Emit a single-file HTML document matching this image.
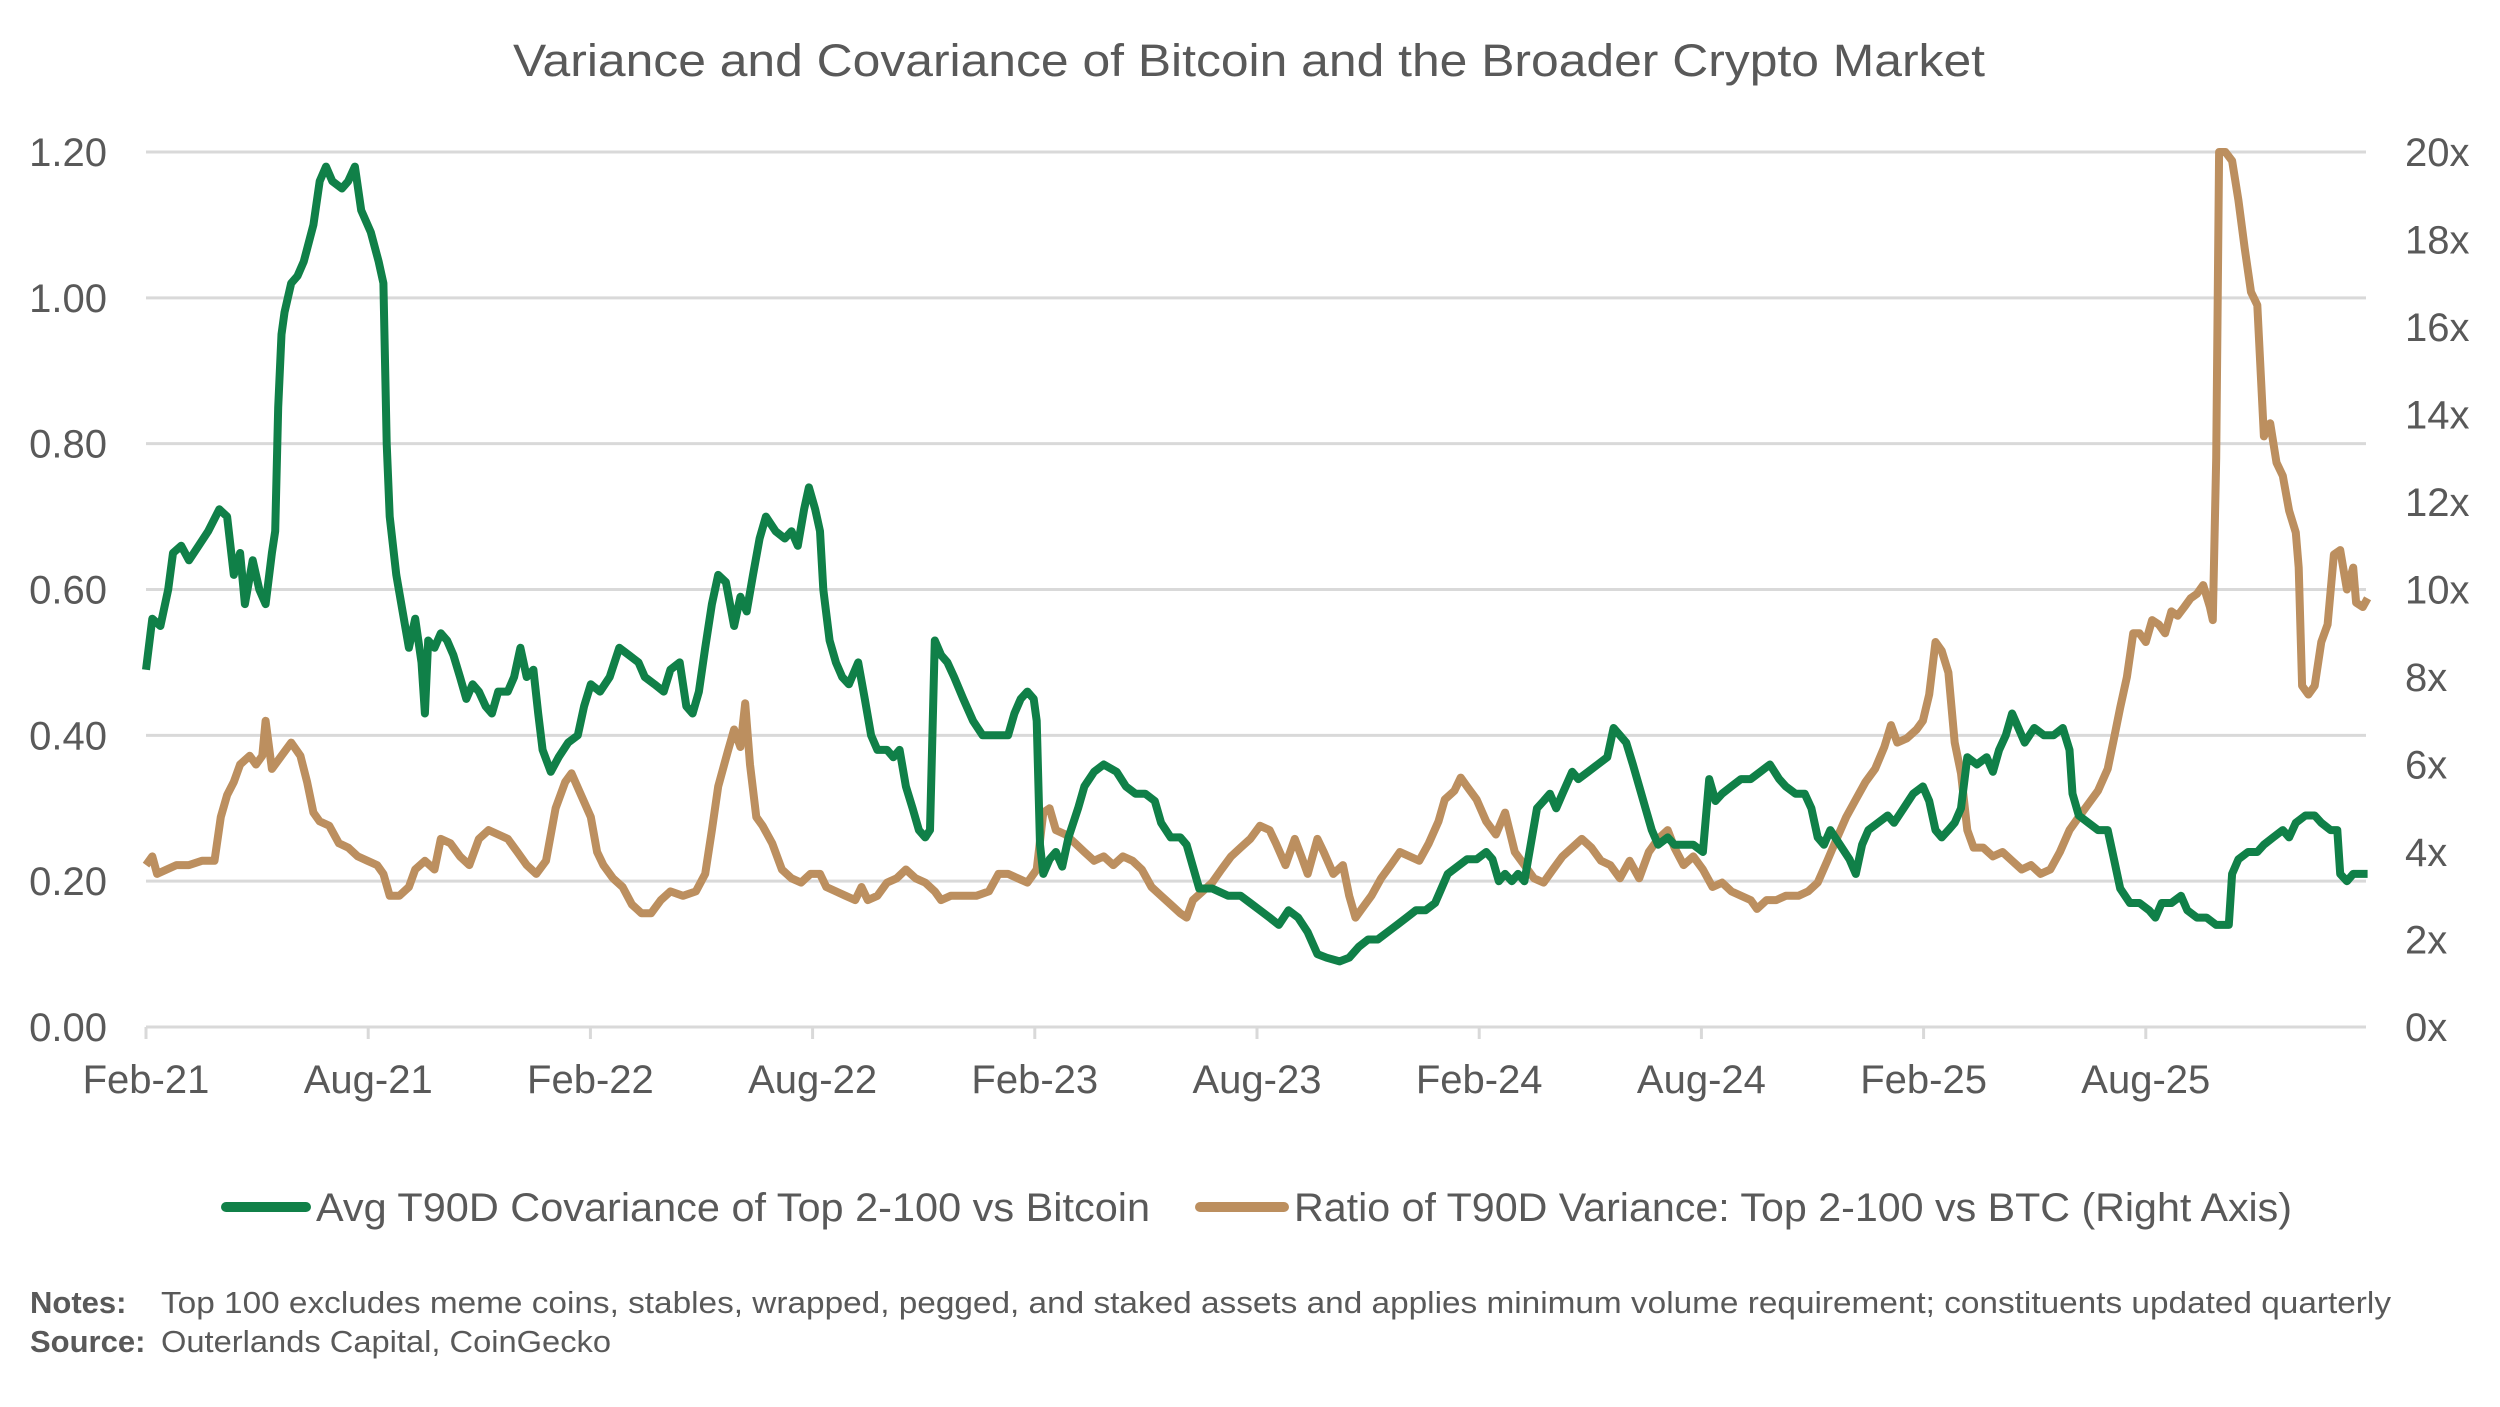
<!DOCTYPE html>
<html><head><meta charset="utf-8"><style>
html,body{margin:0;padding:0;background:#fff;}
svg{display:block;font-family:"Liberation Sans",sans-serif;}
</style></head><body>
<svg id="chart" width="2500" height="1407" viewBox="0 0 2500 1407" xmlns="http://www.w3.org/2000/svg">
<text x="1249" y="76" text-anchor="middle" font-size="45" fill="#595959" textLength="1472" lengthAdjust="spacingAndGlyphs">Variance and Covariance of Bitcoin and the Broader Crypto Market</text>
<g id="grid"></g>
<g id="yl"></g>
<g id="yr"></g>
<g id="xa"></g>
<g id="series"></g>
<g>
<g>
<line x1="226" y1="1207" x2="306" y2="1207" stroke="#108048" stroke-width="10" stroke-linecap="round"/>
<text x="316" y="1221" font-size="40" fill="#595959" textLength="834" lengthAdjust="spacingAndGlyphs">Avg T90D Covariance of Top 2-100 vs Bitcoin</text>
</g>
<g>
<line x1="1200" y1="1207" x2="1284" y2="1207" stroke="#BC8F5F" stroke-width="10" stroke-linecap="round"/>
<text x="1294" y="1221" font-size="40" fill="#595959" textLength="998" lengthAdjust="spacingAndGlyphs">Ratio of T90D Variance: Top 2-100 vs BTC (Right Axis)</text>
</g>
</g>
<g>
<text x="30" y="1313" font-size="31" font-weight="bold" fill="#595959">Notes:</text>
<text x="161" y="1313" font-size="31" fill="#595959" textLength="2230" lengthAdjust="spacingAndGlyphs">Top 100 excludes meme coins, stables, wrapped, pegged, and staked assets and applies minimum volume requirement; constituents updated quarterly</text>
<text x="30" y="1352" font-size="31" font-weight="bold" fill="#595959">Source:</text>
<text x="161" y="1352" font-size="31" fill="#595959" textLength="450" lengthAdjust="spacingAndGlyphs">Outerlands Capital, CoinGecko</text>
</g>
</svg>
<script>
const leftTicks=[0,0.2,0.4,0.6,0.8,1.0,1.2];
const leftTickLabels=["0.00","0.20","0.40","0.60","0.80","1.00","1.20"];
const rightTicks=[0,2,4,6,8,10,12,14,16,18,20];
const rightTickLabels=["0x","2x","4x","6x","8x","10x","12x","14x","16x","18x","20x"];
const xTicks=[0,6,12,18,24,30,36,42,48,54];
const xTickLabels=["Feb-21","Aug-21","Feb-22","Aug-22","Feb-23","Aug-23","Feb-24","Aug-24","Feb-25","Aug-25"];
// months since Feb-21
const covMonths=[0,.17,.39,.60,.73,.95,1.16,1.42,1.68,1.98,2.19,2.37,2.54,2.67,2.88,3.06,3.23,3.40,3.49,3.57,3.66,3.74,3.92,4.09,4.26,4.52,4.69,4.86,5.03,5.29,5.46,5.64,5.81,6.07,6.28,6.41,6.50,6.58,6.76,6.93,7.10,7.27,7.44,7.53,7.62,7.79,7.96,8.13,8.30,8.48,8.65,8.82,8.99,9.17,9.34,9.51,9.77,9.94,10.11,10.28,10.46,10.59,10.71,10.93,11.14,11.40,11.66,11.83,12.01,12.26,12.52,12.78,13.04,13.30,13.47,13.73,13.98,14.16,14.41,14.59,14.76,14.93,15.10,15.28,15.45,15.66,15.88,16.05,16.22,16.39,16.57,16.74,17.00,17.25,17.43,17.60,17.77,17.90,18.07,18.20,18.29,18.46,18.63,18.80,18.98,19.23,19.41,19.58,19.75,20.01,20.18,20.35,20.52,20.70,20.87,21.04,21.17,21.30,21.47,21.64,21.82,22.07,22.33,22.59,22.93,23.28,23.45,23.62,23.80,23.97,24.05,24.14,24.23,24.40,24.57,24.74,24.91,25.17,25.34,25.60,25.86,26.21,26.46,26.72,26.98,27.24,27.41,27.67,27.93,28.10,28.27,28.44,28.79,29.22,29.56,29.82,30.08,30.34,30.59,30.85,31.11,31.37,31.63,31.88,32.23,32.49,32.75,33.00,33.26,33.52,33.78,34.04,34.29,34.55,34.81,34.98,35.15,35.41,35.67,35.93,36.19,36.36,36.53,36.70,36.88,37.05,37.22,37.39,37.56,37.74,37.91,38.08,38.25,38.51,38.68,38.94,39.20,39.46,39.63,39.80,39.97,40.15,40.32,40.49,40.66,40.83,41.09,41.27,41.52,41.78,42.04,42.21,42.38,42.56,42.81,43.07,43.33,43.59,43.85,44.10,44.28,44.54,44.79,44.97,45.14,45.31,45.48,45.74,46.00,46.17,46.34,46.51,46.77,47.03,47.20,47.46,47.72,47.98,48.15,48.32,48.49,48.67,48.84,49.01,49.18,49.44,49.70,49.87,50.04,50.22,50.39,50.56,50.73,50.99,51.25,51.51,51.76,51.94,52.02,52.19,52.45,52.71,52.97,53.14,53.31,53.57,53.83,54.09,54.26,54.43,54.69,54.95,55.12,55.38,55.64,55.90,56.15,56.24,56.33,56.50,56.76,57.01,57.19,57.44,57.70,57.87,58.05,58.31,58.56,58.74,58.99,59.17,59.25,59.43,59.60,59.77,59.99];
const covValues=[.49,.56,.55,.60,.65,.66,.64,.66,.68,.71,.70,.62,.65,.58,.64,.60,.58,.65,.68,.85,.95,.98,1.02,1.03,1.05,1.10,1.16,1.18,1.16,1.15,1.16,1.18,1.12,1.09,1.05,1.02,.80,.70,.62,.57,.52,.56,.50,.43,.53,.52,.54,.53,.51,.48,.45,.47,.46,.44,.43,.46,.46,.48,.52,.48,.49,.43,.38,.35,.37,.39,.40,.44,.47,.46,.48,.52,.51,.50,.48,.47,.46,.49,.50,.44,.43,.46,.52,.58,.62,.61,.55,.59,.57,.62,.67,.70,.68,.67,.68,.66,.71,.74,.71,.68,.60,.53,.50,.48,.47,.50,.45,.40,.38,.38,.37,.38,.33,.30,.27,.26,.27,.53,.51,.50,.48,.45,.42,.40,.40,.40,.43,.45,.46,.45,.42,.25,.21,.23,.24,.22,.26,.30,.33,.35,.36,.35,.33,.32,.32,.31,.28,.26,.26,.25,.22,.19,.19,.18,.18,.17,.16,.15,.14,.16,.15,.13,.10,.095,.09,.095,.11,.12,.12,.13,.14,.15,.16,.16,.17,.19,.21,.22,.23,.23,.24,.23,.20,.21,.20,.21,.20,.25,.30,.31,.32,.30,.32,.35,.34,.35,.36,.37,.41,.40,.39,.36,.33,.30,.27,.25,.26,.25,.25,.25,.24,.34,.31,.32,.33,.34,.34,.35,.36,.34,.33,.32,.32,.30,.26,.25,.27,.25,.23,.21,.25,.27,.28,.29,.28,.30,.32,.33,.31,.27,.26,.27,.28,.30,.37,.36,.37,.35,.38,.40,.43,.41,.39,.41,.40,.40,.41,.38,.32,.29,.28,.27,.27,.23,.19,.17,.17,.16,.15,.17,.17,.18,.16,.15,.15,.14,.14,.14,.21,.23,.24,.24,.25,.26,.27,.26,.28,.29,.29,.28,.27,.27,.21,.20,.21,.21,.21];
const ratioMonths=[0,.17,.30,.56,.82,1.16,1.51,1.85,2.02,2.19,2.37,2.54,2.80,2.97,3.14,3.23,3.40,3.66,3.92,4.17,4.35,4.52,4.69,4.95,5.21,5.46,5.72,5.98,6.24,6.41,6.58,6.84,7.10,7.27,7.53,7.79,7.96,8.22,8.48,8.73,8.99,9.25,9.51,9.77,10.03,10.28,10.54,10.80,11.06,11.32,11.49,11.75,12.01,12.18,12.35,12.61,12.87,13.12,13.38,13.64,13.90,14.16,14.50,14.85,15.10,15.28,15.45,15.71,15.88,16.05,16.18,16.31,16.48,16.65,16.91,17.17,17.43,17.69,17.94,18.20,18.37,18.63,18.89,19.15,19.32,19.49,19.75,20.01,20.27,20.52,20.78,21.04,21.30,21.47,21.73,22.07,22.42,22.76,23.02,23.28,23.54,23.80,24.05,24.23,24.40,24.57,24.83,25.09,25.34,25.60,25.86,26.12,26.38,26.64,26.89,27.15,27.41,27.67,27.93,28.10,28.27,28.53,28.79,29.04,29.30,29.56,29.82,30.08,30.34,30.51,30.77,31.02,31.20,31.37,31.63,31.80,32.06,32.32,32.49,32.66,32.83,33.09,33.35,33.61,33.86,34.12,34.38,34.64,34.90,35.07,35.33,35.50,35.67,35.93,36.19,36.45,36.70,36.96,37.22,37.48,37.74,37.99,38.25,38.51,38.77,39.03,39.29,39.54,39.80,40.06,40.32,40.58,40.83,41.09,41.27,41.52,41.78,42.04,42.30,42.56,42.81,43.07,43.33,43.50,43.76,44.02,44.28,44.62,44.88,45.14,45.40,45.65,45.91,46.17,46.43,46.69,46.94,47.12,47.29,47.55,47.81,47.98,48.15,48.32,48.49,48.67,48.84,49.01,49.18,49.35,49.61,49.87,50.13,50.39,50.65,50.90,51.16,51.42,51.68,51.94,52.19,52.45,52.71,52.97,53.14,53.31,53.49,53.66,53.83,54.00,54.17,54.35,54.52,54.69,54.86,55.04,55.21,55.38,55.55,55.73,55.81,55.90,55.98,56.15,56.33,56.50,56.67,56.84,57.01,57.10,57.19,57.36,57.53,57.70,57.87,58.05,58.13,58.22,58.39,58.56,58.74,58.91,59.08,59.25,59.43,59.60,59.68,59.86,59.99];
const ratioValues=[3.7,3.9,3.5,3.6,3.7,3.7,3.8,3.8,4.8,5.3,5.6,6.0,6.2,6.0,6.2,7.0,5.9,6.2,6.5,6.2,5.6,4.9,4.7,4.6,4.2,4.1,3.9,3.8,3.7,3.5,3.0,3.0,3.2,3.6,3.8,3.6,4.3,4.2,3.9,3.7,4.3,4.5,4.4,4.3,4.0,3.7,3.5,3.8,5.0,5.6,5.8,5.3,4.8,4.0,3.7,3.4,3.2,2.8,2.6,2.6,2.9,3.1,3.0,3.1,3.5,4.5,5.5,6.3,6.8,6.4,7.4,6.0,4.8,4.6,4.2,3.6,3.4,3.3,3.5,3.5,3.2,3.1,3.0,2.9,3.2,2.9,3.0,3.3,3.4,3.6,3.4,3.3,3.1,2.9,3.0,3.0,3.0,3.1,3.5,3.5,3.4,3.3,3.6,4.9,5.0,4.5,4.4,4.2,4.0,3.8,3.9,3.7,3.9,3.8,3.6,3.2,3.0,2.8,2.6,2.5,2.9,3.1,3.3,3.6,3.9,4.1,4.3,4.6,4.5,4.2,3.7,4.3,3.9,3.5,4.3,4.0,3.5,3.7,3.0,2.5,2.7,3.0,3.4,3.7,4.0,3.9,3.8,4.2,4.7,5.2,5.4,5.7,5.5,5.2,4.7,4.4,4.9,4.0,3.7,3.4,3.3,3.6,3.9,4.1,4.3,4.1,3.8,3.7,3.4,3.8,3.4,4.0,4.3,4.5,4.1,3.7,3.9,3.6,3.2,3.3,3.1,3.0,2.9,2.7,2.9,2.9,3.0,3.0,3.1,3.3,3.8,4.3,4.8,5.2,5.6,5.9,6.4,6.9,6.5,6.6,6.8,7.0,7.6,8.8,8.6,8.1,6.5,5.8,4.5,4.1,4.1,3.9,4.0,3.8,3.6,3.7,3.5,3.6,4.0,4.5,4.8,5.1,5.4,5.9,6.6,7.3,8.0,9.0,9.0,8.8,9.3,9.2,9.0,9.5,9.4,9.6,9.8,9.9,10.1,9.6,9.3,13.0,20.0,20.0,19.8,18.9,17.8,16.8,16.5,15.0,13.5,13.8,12.9,12.6,11.8,11.3,10.5,7.8,7.6,7.8,8.8,9.2,10.8,10.9,10.0,10.5,9.7,9.6,9.8];

const NS='http://www.w3.org/2000/svg';
const X0=146,X1=2368,XMAX=60,Y0=1027,YT=152;
const xS=m=>X0+m*(X1-X0)/XMAX;
const yL=v=>Y0-v/1.2*(Y0-YT);
const yR=v=>Y0-v/20*(Y0-YT);
function mk(tag,attrs,parent){const e=document.createElementNS(NS,tag);for(const k in attrs)e.setAttribute(k,attrs[k]);parent.appendChild(e);return e;}
const grid=document.getElementById('grid'),yl=document.getElementById('yl'),yr=document.getElementById('yr'),xa=document.getElementById('xa'),ser=document.getElementById('series');
leftTicks.forEach((t,i)=>{
  const y=yL(t);
  const g=mk('line',{x1:X0,x2:2366,y1:y,y2:y,stroke:'#d9d9d9','stroke-width':3},grid);
  
  
  const tx=mk('text',{x:107,y:y+14,'text-anchor':'end','font-size':40,fill:'#595959'},yl);
  
  
  tx.textContent=leftTickLabels[i];
});
rightTicks.forEach((t,i)=>{
  const tx=mk('text',{x:2405,y:yR(t)+14,'font-size':40,fill:'#595959'},yr);
  
  
  tx.textContent=rightTickLabels[i];
});
xTicks.forEach((t,i)=>{
  const x=xS(t);
  const tk=mk('line',{x1:x,x2:x,y1:Y0,y2:Y0+12,stroke:'#d9d9d9','stroke-width':3},xa);
  
  
  const tx=mk('text',{x:x,y:1093,'text-anchor':'middle','font-size':40,fill:'#595959'},xa);
  
  
  tx.textContent=xTickLabels[i];
});
function pathFor(ms,vs,ys){return ms.map((m,i)=>(i?'L':'M')+xS(m).toFixed(1)+' '+ys(vs[i]).toFixed(1)).join('');}
const pr=mk('path',{d:pathFor(ratioMonths,ratioValues,yR),fill:'none',stroke:'#BC8F5F','stroke-width':8,'stroke-linejoin':'round'},ser);


const pc=mk('path',{d:pathFor(covMonths,covValues,yL),fill:'none',stroke:'#108048','stroke-width':8,'stroke-linejoin':'round'},ser);


</script>
</body></html>
